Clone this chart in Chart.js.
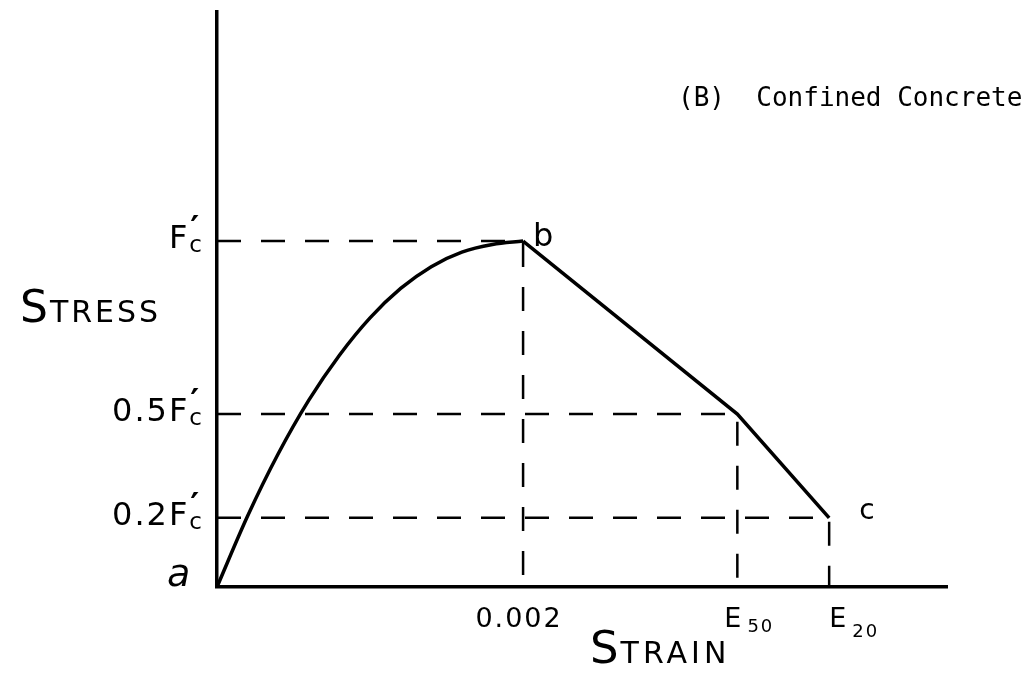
<!DOCTYPE html>
<html>
<head>
<meta charset="utf-8">
<script src="https://cdn.jsdelivr.net/npm/chart.js@4.4.1/dist/chart.umd.min.js"></script>
<style>
html, body { margin: 0; background: #fff; }
#wrap { width: 1034px; height: 673px; position: relative; }
</style>
</head>
<body>
<div id="wrap"><canvas id="chart"></canvas></div>
<script>
// rising branch a -> b (strain, stress as fraction of F'c)
const riseStrain = [0, 0.0002, 0.0004, 0.0006, 0.0008, 0.001, 0.0012, 0.0014, 0.0016, 0.0018, 0.002];
const riseStress = [0, 0.205, 0.385, 0.54, 0.67, 0.778, 0.863, 0.926, 0.968, 0.99, 1.0];
// falling branch b -> c
const fallStrain = [0.002, 0.0034, 0.004];
const fallStress = [1.0, 0.5, 0.2];

// stress levels marked on the vertical axis
const stressLevels = [1.0, 0.5, 0.2];
const stressPrefix = ['', '0.5', '0.2'];
// strains marked on the horizontal axis
const strainMarks = [0.002, 0.0034, 0.004];
const strainMain = ['0.002', 'E', 'E'];
const strainSub = ['', '50', '20'];

const strainMax = 0.00477;
const stressMax = 1.662;

const HAND = '"DejaVu Sans", sans-serif';
const TYPE = '"DejaVu Sans Mono", monospace';

const toPts = (xs, ys) => xs.map((v, i) => ({ x: v, y: ys[i] }));

// dashed guides: level -> strain mark -> down to the axis
const guideSets = stressLevels.map((lvl, i) => ({
    data: [{ x: 0, y: lvl }, { x: strainMarks[i], y: lvl }, { x: strainMarks[i], y: 0 }],
    borderColor: '#000',
    borderWidth: 2.5,
    borderDash: [24, 20],
    pointRadius: 0,
    tension: 0,
    clip: false
}));

function drawFc(ctx, prefix, right, py) {
    ctx.letterSpacing = '2px';
    ctx.font = `32px ${HAND}`;
    const wMain = ctx.measureText(prefix + 'F').width;
    ctx.letterSpacing = '0px';
    ctx.font = `23px ${HAND}`;
    const wSub = ctx.measureText('c').width;
    const x0 = right - wMain - wSub;
    ctx.letterSpacing = '2px';
    ctx.font = `32px ${HAND}`;
    ctx.fillText(prefix + 'F', x0, py + 7);
    ctx.letterSpacing = '0px';
    ctx.font = `23px ${HAND}`;
    ctx.fillText('c', x0 + wMain, py + 11);
    ctx.font = `bold 34px ${HAND}`;
    ctx.fillText('\u2032', x0 + wMain + 1, py - 1);
}

function smallCaps(ctx, word, x, base, big, small, spacing) {
    ctx.font = `${big}px ${HAND}`;
    ctx.fillText(word[0], x, base);
    const w = ctx.measureText(word[0]).width;
    ctx.font = `${small}px ${HAND}`;
    ctx.letterSpacing = spacing + 'px';
    ctx.fillText(word.slice(1), x + w + 2, base);
    ctx.letterSpacing = '0px';
}

const strainNudge = [-4, 12, 25];

const labelPlugin = {
    id: 'labels',
    afterDraw(chart) {
        const { ctx, scales: { x, y } } = chart;
        ctx.save();
        ctx.fillStyle = '#000';
        ctx.textBaseline = 'alphabetic';
        ctx.textAlign = 'left';

        stressLevels.forEach((v, i) => drawFc(ctx, stressPrefix[i], 202, y.getPixelForValue(v)));

        strainMarks.forEach((v, i) => {
            const px = x.getPixelForValue(v) + strainNudge[i];
            ctx.letterSpacing = '2px';
            ctx.font = `27px ${HAND}`;
            const wm = ctx.measureText(strainMain[i]).width;
            ctx.font = `18px ${HAND}`;
            const ws = strainSub[i] ? ctx.measureText(strainSub[i]).width + 4 : 0;
            const x0 = px - (wm + ws) / 2;
            ctx.font = `27px ${HAND}`;
            ctx.fillText(strainMain[i], x0, 627);
            if (strainSub[i]) {
                ctx.font = `18px ${HAND}`;
                ctx.fillText(strainSub[i], x0 + wm + 4, i === 1 ? 632 : 637);
            }
            ctx.letterSpacing = '0px';
        });

        // point names
        const ax = x.getPixelForValue(0), ay = y.getPixelForValue(0);
        ctx.font = `italic 38px ${HAND}`;
        ctx.fillText('a', ax - 50, ay - 1);
        ctx.font = `32px ${HAND}`;
        ctx.fillText('b', x.getPixelForValue(fallStrain[0]) + 10, y.getPixelForValue(fallStress[0]) + 5);
        ctx.font = `28px ${HAND}`;
        ctx.fillText('c', x.getPixelForValue(fallStrain[2]) + 30, y.getPixelForValue(fallStress[2]) + 1);

        // axis names
        smallCaps(ctx, 'STRESS', 20, 322, 44, 30, 3);
        smallCaps(ctx, 'STRAIN', 590, 663, 45, 30, 4);

        ctx.font = `26px ${TYPE}`;
        ctx.fillText('(B)  Confined Concrete', 678, 106);
        ctx.restore();
    }
};

new Chart(document.getElementById('chart'), {
    type: 'line',
    data: {
        datasets: [
            {
                data: toPts(riseStrain, riseStress),
                borderColor: '#000',
                borderWidth: 3.5,
                pointRadius: 0,
                cubicInterpolationMode: 'monotone',
                clip: false
            },
            {
                data: toPts(fallStrain, fallStress),
                borderColor: '#000',
                borderWidth: 3.5,
                pointRadius: 0,
                tension: 0,
                clip: false
            },
            ...guideSets
        ]
    },
    options: {
        responsive: true,
        maintainAspectRatio: false,
        animation: false,
        layout: { padding: { left: 217, right: 87, top: 12, bottom: 86 } },
        scales: {
            x: {
                type: 'linear',
                min: 0,
                max: strainMax,
                grid: { display: false, drawTicks: false },
                ticks: { display: false },
                border: { display: true, color: '#000', width: 3.5 }
            },
            y: {
                type: 'linear',
                min: 0,
                max: stressMax,
                grid: { display: false, drawTicks: false },
                ticks: { display: false },
                border: { display: true, color: '#000', width: 3.5 }
            }
        },
        plugins: {
            legend: { display: false },
            tooltip: { enabled: false }
        }
    },
    plugins: [labelPlugin]
});
</script>
</body>
</html>
